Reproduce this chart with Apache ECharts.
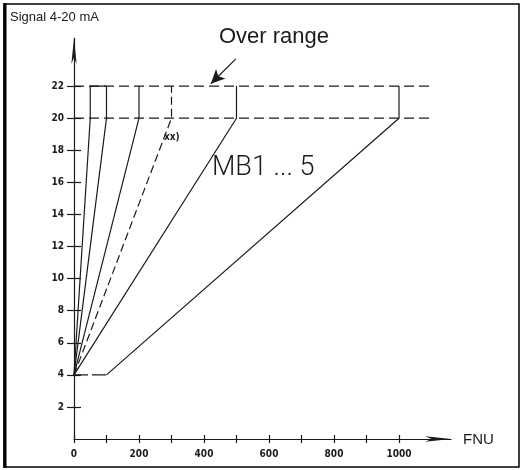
<!DOCTYPE html>
<html><head><meta charset="utf-8">
<script src="https://cdn.jsdelivr.net/npm/echarts@6/dist/echarts.min.js"></script>
<style>html,body{margin:0;padding:0;background:#fff}#c{width:522px;height:470px}</style>
</head><body><div id="c"></div>
<script>
// Data (FNU, mA)
const mb1 = [[0,4],[50,20],[50,22],[100,22]];
const mb2 = [[0,4],[100,20],[100,22]];
const mb3 = [[0,4],[200,20],[200,22]];
const mbxx = [[0,4],[300,20],[300,22]];
const mb4 = [[0,4],[500,20],[500,22]];
const mb5Offset = [[0,4],[100,4]];
const mb5 = [[100,4],[1000,20],[1000,22]];
const limit20 = [[0,20],[1100,20]];
const limit22 = [[0,22],[1100,22]];
const xTickValues = [0,100,200,300,400,500,600,700,800,900,1000];
const xLabelValues = [0,200,400,600,800,1000];
const yValues = [2,4,6,8,10,12,14,16,18,20,22];

const chart = echarts.init(document.getElementById('c'), null, {renderer:'canvas'});
const ink = '#1a1a1a';
const solid = {color: ink, width: 1.2};
function ln(data, style) {
  return {type:'line', data, symbol:'none', silent:true, lineStyle: style, animation:false, z:3};
}
const tickFont = {color: ink, fontFamily: 'DejaVu Sans Condensed', fontWeight: 'bold', fontSize: 10};
chart.setOption({
  animation:false,
  grid:{left:74, right:71, top:38, bottom:31},
  xAxis:[{
    type:'value', min:0, max:1160,
    axisLine:{lineStyle:{color:ink, width:1.2}, symbol:['none','arrow'], symbolSize:[4,26]},
    axisTick:{show:true, length:4, customValues:xTickValues, lineStyle:{color:ink, width:1.2}},
    axisLabel:{customValues:xLabelValues, margin:10, formatter:v => String(v), ...tickFont},
    splitLine:{show:false}
  },{
    type:'value', min:0, max:1160, position:'bottom',
    axisLine:{show:false},
    axisTick:{show:true, inside:true, length:4, customValues:xTickValues, lineStyle:{color:ink, width:1.2}},
    axisLabel:{show:false}, splitLine:{show:false}
  }],
  yAxis:[{
    type:'value', min:0, max:25,
    axisLine:{lineStyle:{color:ink, width:1.2}, symbol:['none','arrow'], symbolSize:[4,26]},
    axisTick:{show:true, length:7, customValues:yValues, lineStyle:{color:ink, width:1.2}},
    axisLabel:{customValues:yValues, margin:10, formatter:v => String(v), ...tickFont},
    splitLine:{show:false}
  },{
    type:'value', min:0, max:25, position:'left',
    axisLine:{show:false},
    axisTick:{show:true, inside:true, length:7, customValues:yValues, lineStyle:{color:ink, width:1.2}},
    axisLabel:{show:false}, splitLine:{show:false}
  }],
  series:[
    ln(limit22, {color:ink, width:1.2, type:[10,5]}),
    ln(limit20, {color:ink, width:1.2, type:[10,5]}),
    ln(mb1, solid),
    ln(mb2, solid),
    ln(mb3, solid),
    ln(mbxx, {color:ink, width:1.2, type:[8,4]}),
    ln(mb4, solid),
    ln(mb5Offset, {color:ink, width:1.2, type:[14,4]}),
    Object.assign(ln(mb5, solid), {
      markLine:{silent:true, symbol:['none','arrow'], symbolSize:[10,14], label:{show:false},
        lineStyle:{color:ink, width:1.2, type:'solid'},
        data:[[{coord:[498,23.7]},{coord:[421,22.15]}]]}
    })
  ],
  graphic:[
    {type:'rect', shape:{x:4, y:4, width:515, height:463}, style:{fill:'none', stroke:'#000', lineWidth:1.5}},
    {type:'line', shape:{x1:5, y1:3, x2:5, y2:468}, style:{stroke:'#000', lineWidth:3}},
    {type:'text', left:10, top:11, style:{text:'Signal 4-20 mA', fontFamily:'Liberation Sans', fontSize:13, fill:ink}},
    {type:'text', left:219, top:26, style:{text:'Over range', fontFamily:'Liberation Sans', fontSize:22, fill:ink}},
    {type:'text', left:212, top:155, style:{text:'MB1 ... 5', fontFamily:'Roboto', fontWeight:300, fontSize:27, fill:ink}},
    {type:'text', left:164, top:132, style:{text:'xx)', fontFamily:'DejaVu Sans Condensed', fontWeight:'bold', fontSize:10, fill:ink}},
    {type:'text', left:463, top:432, style:{text:'FNU', fontFamily:'Liberation Sans', fontSize:15, fill:ink}}
  ]
});
</script></body></html>
